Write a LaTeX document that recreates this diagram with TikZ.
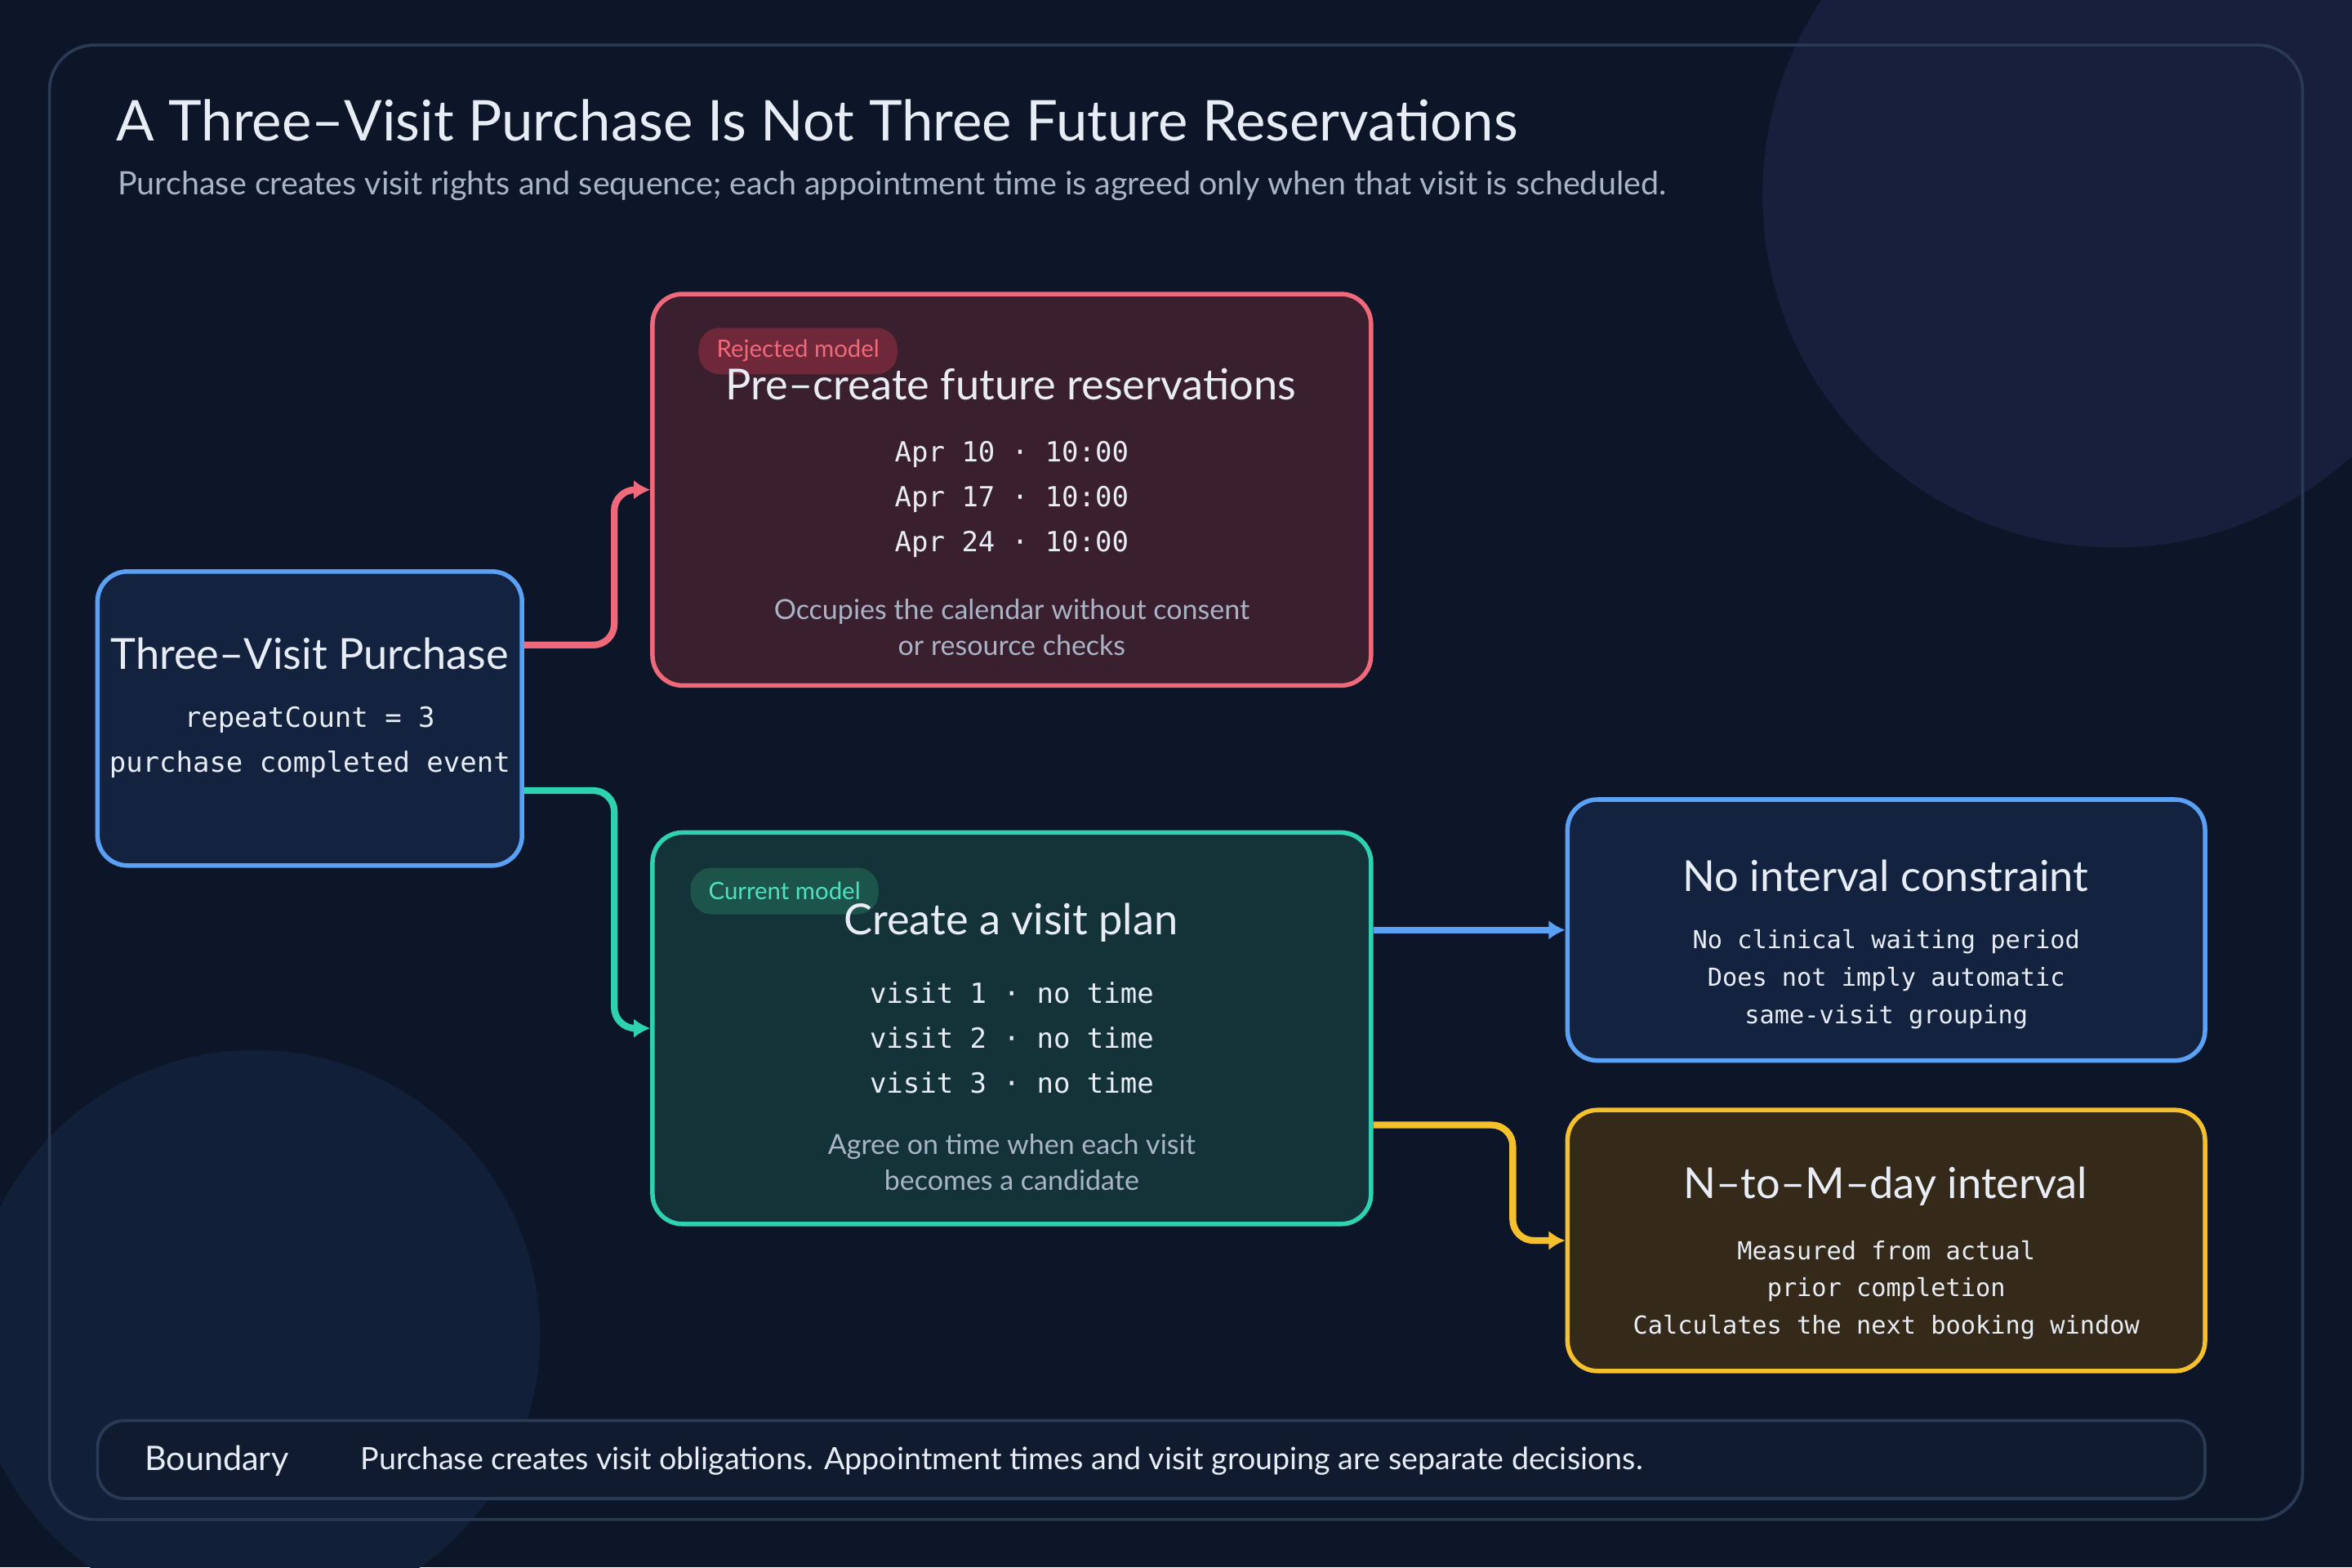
\documentclass[tikz,border=0pt]{standalone}
\usepackage{fontspec}
\setmainfont{Lato}
\setmonofont{DejaVu Sans Mono}
\usetikzlibrary{arrows.meta}
\definecolor{bg}{HTML}{0D1628}
\definecolor{frame}{HTML}{2A3A55}
\definecolor{blu}{HTML}{5AA0F5}
\definecolor{bluf}{HTML}{13223F}
\definecolor{red}{HTML}{F0697A}
\definecolor{redf}{HTML}{3A1F2E}
\definecolor{tea}{HTML}{2ED1B0}
\definecolor{teaf}{HTML}{133338}
\definecolor{yel}{HTML}{F5C02E}
\definecolor{yelf}{HTML}{352A1A}
\definecolor{txt}{HTML}{E8EDF5}
\definecolor{sub}{HTML}{A9B4C6}
\definecolor{circA}{HTML}{171F3D}
\definecolor{circB}{HTML}{112038}
\definecolor{rtag}{HTML}{6E283A}
\definecolor{ctag}{HTML}{1C544A}
\definecolor{ctxt}{HTML}{50E0C0}
\definecolor{bndf}{HTML}{111B30}
\begin{document}
\begin{tikzpicture}[x=1pt,y=-1pt,
 box/.style={draw,line width=3pt,rounded corners=20pt,inner sep=0pt},
 ttl/.style={text=txt,font=\fontsize{28.5}{32}\selectfont},
 mono/.style={text=txt,font=\ttfamily\fontsize{18.5}{30}\selectfont,align=center},
 note/.style={text=sub,font=\fontsize{18.5}{24}\selectfont,align=center},
 conn/.style={line width=4.5pt,rounded corners=14pt,-{Latex[length=11pt,width=13pt]}},
 tag/.style={rounded corners=14pt,minimum height=31pt,inner xsep=12pt,font=\fontsize{16}{18}\selectfont}]
\useasboundingbox (0,0) rectangle (1568,1045);
\fill[bg] (0,0) rectangle (1568,1045);
\begin{scope}
\clip (0,0) rectangle (1568,1045);
\fill[circA] (1410,130) circle (235);
\fill[circB] (170,890) circle (190);
\end{scope}
\draw[frame,line width=2pt,rounded corners=30pt] (33,30) rectangle (1535,1013);
\node[anchor=west,text=txt,font=\fontsize{37.5}{42}\selectfont] (title) at (74,80) {A Three–Visit Purchase Is Not Three Future Reservations};
\node[anchor=west,text=sub,font=\fontsize{21.5}{24}\selectfont] (subt) at (75,124) {Purchase creates visit rights and sequence; each appointment time is agreed only when that visit is scheduled.};
% boxes
\node[box,draw=blu,fill=bluf,minimum width=283pt,minimum height=196pt] (purch) at (206.5,479) {};
\node[ttl] at (206.5,436) {Three–Visit Purchase};
\node[mono] at (206.5,495) {repeatCount = 3\\purchase completed event};
\node[box,draw=red,fill=redf,minimum width=479pt,minimum height=261pt] (rej) at (674.5,326.5) {};
\node[tag,fill=rtag,text=red] (rt) at (532,234) {Rejected model};
\node[ttl] at (674,256) {Pre–create future reservations};
\node[mono] at (674.5,333) {Apr 10 · 10:00\\Apr 17 · 10:00\\Apr 24 · 10:00};
\node[note] at (674.5,418) {Occupies the calendar without consent\\or resource checks};
\node[box,draw=tea,fill=teaf,minimum width=479pt,minimum height=261pt] (cur) at (674.5,685.5) {};
\node[tag,fill=ctag,text=ctxt] (ct) at (523,594) {Current model};
\node[ttl] at (674,615) {Create a visit plan};
\node[mono] at (674.5,692) {visit 1 · no time\\visit 2 · no time\\visit 3 · no time};
\node[note] at (674.5,775) {Agree on time when each visit\\becomes a candidate};
\node[box,draw=blu,fill=bluf,minimum width=425pt,minimum height=174pt] (noint) at (1257.5,620) {};
\node[ttl] at (1257,584) {No interval constraint};
\node[mono,font=\ttfamily\fontsize{16.5}{25}\selectfont] at (1257.5,653) {No clinical waiting period\\Does not imply automatic\\same-visit grouping};
\node[box,draw=yel,fill=yelf,minimum width=425pt,minimum height=174pt] (ntom) at (1257.5,827) {};
\node[ttl] at (1257,791) {N–to–M–day interval};
\node[mono,font=\ttfamily\fontsize{16.5}{25}\selectfont] at (1257.5,860) {Measured from actual\\prior completion\\Calculates the next booking window};
\node[draw=frame,line width=2pt,fill=bndf,rounded corners=18pt,minimum width=1405pt,minimum height=52pt] (bnd) at (767.5,973) {};
\node[anchor=west,text=txt,font=\fontsize{22.5}{24}\selectfont] at (93,974) {Boundary};
\node[anchor=west,text=txt,font=\fontsize{20.5}{24}\selectfont] at (237,974) {Purchase creates visit obligations. Appointment times and visit grouping are separate decisions.};
% connectors
\draw[conn,red] ([yshift=49pt]purch.east) -- ++(60,0) |- (rej.west);
\draw[conn,tea] ([yshift=-48pt]purch.east) -- ++(60,0) |- (cur.west);
\draw[conn,blu] ([yshift=65.5pt]cur.east) -- (noint.west);
\draw[conn,yel] ([yshift=-64.5pt]cur.east) -- ++(93,0) |- (ntom.west);
\end{tikzpicture}
\end{document}
